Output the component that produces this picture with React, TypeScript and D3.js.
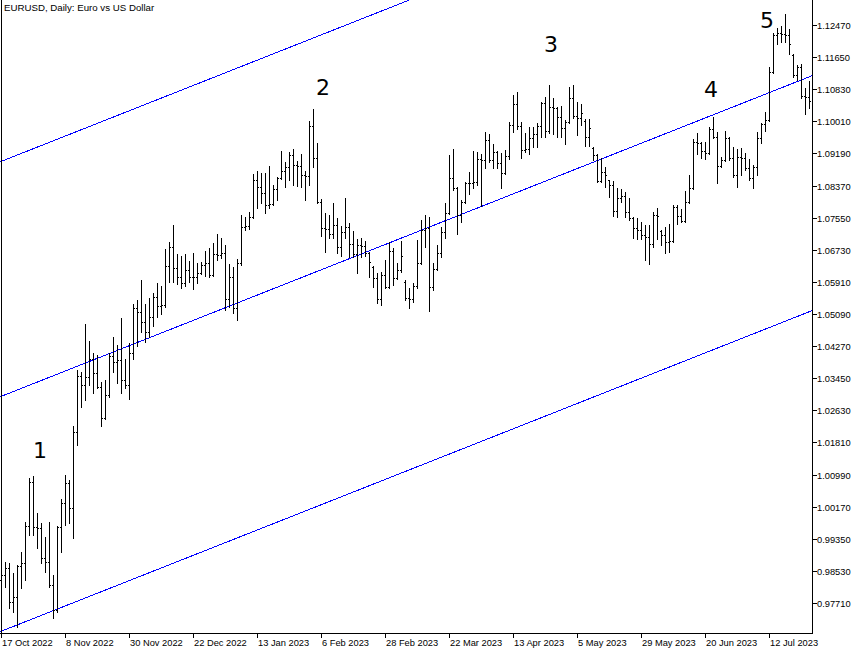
import React from "react";
import * as d3 from "d3";

const TITLE = "EURUSD, Daily:  Euro vs US Dollar";

const dateTickIndex = [0, 16, 32, 48, 64, 80, 96, 112, 128, 144, 160, 176, 192];
const dateLabels = [
  "17 Oct 2022", "8 Nov 2022", "30 Nov 2022", "22 Dec 2022", "13 Jan 2023",
  "6 Feb 2023", "28 Feb 2023", "22 Mar 2023", "13 Apr 2023", "5 May 2023",
  "29 May 2023", "20 Jun 2023", "12 Jul 2023",
];

const priceTicks = [
  1.1247, 1.1165, 1.1083, 1.1001, 1.0919, 1.0837, 1.0755, 1.0673, 1.0591, 1.0509,
  1.0427, 1.0345, 1.0263, 1.0181, 1.0099, 1.0017, 0.9935, 0.9853, 0.9771,
];

const opens = [
  0.9830, 0.9842, 0.9860, 0.9773, 0.9786, 0.9865, 0.9873, 0.9967, 1.0080, 0.9965,
  0.9963, 0.9886, 0.9876, 0.9817, 0.9753, 0.9965, 1.0026, 1.0077, 1.0014, 1.0208,
  1.0351, 1.0328, 1.0348, 1.0394, 1.0358, 1.0322, 1.0243, 1.0302, 1.0402, 1.0386,
  1.0392, 1.0340, 1.0328, 1.0409, 1.0524, 1.0514, 1.0489, 1.0463, 1.0501, 1.0552,
  1.0529, 1.0532, 1.0632, 1.0680, 1.0627, 1.0603, 1.0588, 1.0621, 1.0603, 1.0604,
  1.0614, 1.0634, 1.0639, 1.0609, 1.0662, 1.0660, 1.0665, 1.0547, 1.0603, 1.0524,
  1.0639, 1.0731, 1.0734, 1.0757, 1.0851, 1.0833, 1.0818, 1.0787, 1.0790, 1.0828,
  1.0857, 1.0874, 1.0884, 1.0915, 1.0890, 1.0887, 1.0864, 1.0861, 1.0989, 1.0907,
  1.0795, 1.0729, 1.0726, 1.0713, 1.0736, 1.0680, 1.0718, 1.0731, 1.0688, 1.0662,
  1.0685, 1.0683, 1.0665, 1.0630, 1.0601, 1.0547, 1.0609, 1.0577, 1.0670, 1.0601,
  1.0621, 1.0590, 1.0550, 1.0547, 1.0580, 1.0639, 1.0724, 1.0729, 1.0578, 1.0625,
  1.0665, 1.0718, 1.0767, 1.0856, 1.0831, 1.0762, 1.0795, 1.0844, 1.0843, 1.0845,
  1.0905, 1.0902, 1.0953, 1.0902, 1.0923, 1.0895, 1.0868, 1.0912, 1.0992, 1.1045,
  1.0989, 1.0928, 1.0930, 1.0958, 1.0969, 1.0989, 1.1047, 1.0976, 1.1037, 1.1035,
  1.1012, 1.0984, 1.0999, 1.1060, 1.1014, 1.1009, 1.1002, 1.0961, 1.0933, 1.0915,
  1.0849, 1.0872, 1.0850, 1.0838, 1.0772, 1.0805, 1.0810, 1.0770, 1.0754, 1.0729,
  1.0724, 1.0711, 1.0705, 1.0688, 1.0762, 1.0722, 1.0711, 1.0693, 1.0695, 1.0782,
  1.0759, 1.0747, 1.0795, 1.0831, 1.0948, 1.0946, 1.0925, 1.0920, 1.0981, 1.0960,
  1.0887, 1.0902, 1.0958, 1.0907, 1.0864, 1.0910, 1.0907, 1.0882, 1.0856, 1.0884,
  1.0958, 1.0994, 1.1004, 1.1127, 1.1222, 1.1227, 1.1225, 1.1222, 1.1171, 1.1119,
  1.1140, 1.1066, 1.1063,
];

const highs = [
  0.9868, 0.9876, 0.9873, 0.9847, 0.9868, 0.9901, 0.9978, 1.0090, 1.0095, 1.0001,
  0.9975, 0.9939, 0.9978, 0.9842, 0.9967, 1.0036, 1.0098, 1.0085, 1.0223, 1.0366,
  1.0361, 1.0483, 1.0440, 1.0409, 1.0404, 1.0335, 1.0340, 1.0409, 1.0450, 1.0430,
  1.0499, 1.0394, 1.0435, 1.0535, 1.0545, 1.0596, 1.0535, 1.0550, 1.0563, 1.0588,
  1.0580, 1.0675, 1.0693, 1.0736, 1.0662, 1.0657, 1.0662, 1.0644, 1.0665, 1.0639,
  1.0642, 1.0670, 1.0678, 1.0690, 1.0713, 1.0703, 1.0685, 1.0637, 1.0629, 1.0649,
  1.0762, 1.0757, 1.0770, 1.0866, 1.0874, 1.0869, 1.0869, 1.0887, 1.0838, 1.0859,
  1.0925, 1.0897, 1.0923, 1.0930, 1.0900, 1.0918, 1.0874, 1.1002, 1.1033, 1.0946,
  1.0803, 1.0767, 1.0762, 1.0792, 1.0754, 1.0734, 1.0805, 1.0741, 1.0721, 1.0701,
  1.0703, 1.0695, 1.0668, 1.0632, 1.0614, 1.0616, 1.0647, 1.0693, 1.0678, 1.0639,
  1.0695, 1.0595, 1.0575, 1.0588, 1.0698, 1.0749, 1.0762, 1.0757, 1.0639, 1.0685,
  1.0731, 1.0792, 1.0915, 1.0930, 1.0834, 1.0800, 1.0846, 1.0872, 1.0925, 1.0923,
  1.0918, 1.0974, 1.0969, 1.0943, 1.0926, 1.0920, 1.0928, 1.0999, 1.1068, 1.1076,
  1.0999, 1.0971, 1.0986, 1.0986, 1.0997, 1.1050, 1.1063, 1.1094, 1.1060, 1.1038,
  1.1040, 1.1004, 1.1089, 1.1094, 1.1050, 1.1045, 1.1006, 1.1007, 1.0935, 1.0917,
  1.0907, 1.0885, 1.0851, 1.0849, 1.0831, 1.0828, 1.0820, 1.0805, 1.0757, 1.0754,
  1.0744, 1.0736, 1.0736, 1.0770, 1.0780, 1.0724, 1.0731, 1.0739, 1.0787, 1.0787,
  1.0777, 1.0823, 1.0864, 1.0956, 1.0971, 1.0948, 1.0948, 1.0986, 1.1012, 1.0974,
  1.0910, 1.0976, 1.0960, 1.0935, 1.0930, 1.0933, 1.0920, 1.0905, 1.0890, 1.0974,
  1.0997, 1.1025, 1.1139, 1.1227, 1.1239, 1.1244, 1.1275, 1.1237, 1.1173, 1.1145,
  1.1147, 1.1086, 1.1104,
];

const lows = [
  0.9809, 0.9812, 0.9758, 0.9748, 0.9710, 0.9809, 0.9830, 0.9945, 0.9945, 0.9911,
  0.9873, 0.9850, 0.9812, 0.9733, 0.9748, 0.9901, 0.9970, 0.9975, 0.9937, 1.0174,
  1.0271, 1.0289, 1.0328, 1.0307, 1.0320, 1.0223, 1.0241, 1.0297, 1.0361, 1.0333,
  1.0307, 1.0320, 1.0292, 1.0394, 1.0427, 1.0463, 1.0437, 1.0450, 1.0478, 1.0501,
  1.0509, 1.0528, 1.0591, 1.0591, 1.0586, 1.0575, 1.0580, 1.0591, 1.0573, 1.0588,
  1.0611, 1.0606, 1.0603, 1.0605, 1.0647, 1.0652, 1.0519, 1.0527, 1.0512, 1.0494,
  1.0635, 1.0724, 1.0726, 1.0755, 1.0780, 1.0792, 1.0767, 1.0780, 1.0787, 1.0800,
  1.0854, 1.0833, 1.0851, 1.0838, 1.0836, 1.0833, 1.0800, 1.0838, 1.0884, 1.0792,
  1.0708, 1.0667, 1.0703, 1.0703, 1.0665, 1.0657, 1.0703, 1.0655, 1.0655, 1.0614,
  1.0655, 1.0657, 1.0603, 1.0578, 1.0537, 1.0532, 1.0575, 1.0575, 1.0583, 1.0598,
  1.0615, 1.0545, 1.0524, 1.0540, 1.0575, 1.0637, 1.0680, 1.0517, 1.0570, 1.0622,
  1.0655, 1.0703, 1.0765, 1.0826, 1.0713, 1.0744, 1.0793, 1.0815, 1.0831, 1.0838,
  1.0785, 1.0882, 1.0897, 1.0882, 1.0882, 1.0831, 1.0867, 1.0905, 1.0974, 1.0981,
  1.0907, 1.0923, 1.0918, 1.0935, 1.0935, 1.0961, 1.0961, 1.0972, 1.0969, 1.0961,
  1.0961, 1.0943, 1.0996, 1.1009, 1.0966, 1.0992, 1.0938, 1.0938, 1.0902, 1.0846,
  1.0846, 1.0833, 1.0808, 1.0759, 1.0757, 1.0795, 1.0757, 1.0749, 1.0703, 1.0700,
  1.0700, 1.0647, 1.0637, 1.0680, 1.0700, 1.0685, 1.0665, 1.0667, 1.0692, 1.0739,
  1.0744, 1.0745, 1.0792, 1.0828, 1.0918, 1.0907, 1.0905, 1.0918, 1.0958, 1.0843,
  1.0884, 1.0900, 1.0902, 1.0859, 1.0833, 1.0864, 1.0877, 1.0851, 1.0831, 1.0864,
  1.0946, 1.0976, 1.1001, 1.1124, 1.1198, 1.1204, 1.1204, 1.1173, 1.1114, 1.1107,
  1.1061, 1.1020, 1.1035,
];

const closes = [
  0.9842, 0.9860, 0.9773, 0.9786, 0.9865, 0.9873, 0.9967, 1.0080, 0.9965, 0.9963,
  0.9886, 0.9876, 0.9817, 0.9753, 0.9965, 1.0026, 1.0077, 1.0014, 1.0208, 1.0351,
  1.0328, 1.0348, 1.0394, 1.0358, 1.0322, 1.0243, 1.0302, 1.0402, 1.0386, 1.0392,
  1.0340, 1.0328, 1.0409, 1.0524, 1.0514, 1.0489, 1.0463, 1.0501, 1.0552, 1.0529,
  1.0532, 1.0632, 1.0680, 1.0627, 1.0603, 1.0588, 1.0621, 1.0603, 1.0604, 1.0614,
  1.0634, 1.0639, 1.0609, 1.0662, 1.0660, 1.0665, 1.0547, 1.0603, 1.0524, 1.0639,
  1.0731, 1.0734, 1.0757, 1.0851, 1.0833, 1.0818, 1.0787, 1.0790, 1.0828, 1.0857,
  1.0874, 1.0884, 1.0915, 1.0890, 1.0887, 1.0864, 1.0861, 1.0989, 1.0907, 1.0795,
  1.0729, 1.0726, 1.0713, 1.0736, 1.0680, 1.0718, 1.0731, 1.0688, 1.0662, 1.0685,
  1.0683, 1.0665, 1.0642, 1.0601, 1.0547, 1.0609, 1.0577, 1.0670, 1.0601, 1.0621,
  1.0657, 1.0550, 1.0547, 1.0580, 1.0639, 1.0724, 1.0729, 1.0578, 1.0625, 1.0665,
  1.0718, 1.0767, 1.0856, 1.0831, 1.0762, 1.0795, 1.0844, 1.0843, 1.0845, 1.0905,
  1.0902, 1.0953, 1.0902, 1.0923, 1.0895, 1.0868, 1.0912, 1.0992, 1.1045, 1.0989,
  1.0928, 1.0930, 1.0958, 1.0969, 1.0989, 1.1047, 1.0976, 1.1037, 1.1035, 1.1012,
  1.0984, 1.0999, 1.1060, 1.1014, 1.1009, 1.1022, 1.0961, 1.0984, 1.0915, 1.0849,
  1.0872, 1.0864, 1.0838, 1.0772, 1.0805, 1.0810, 1.0770, 1.0754, 1.0729, 1.0724,
  1.0711, 1.0705, 1.0688, 1.0762, 1.0760, 1.0711, 1.0693, 1.0695, 1.0782, 1.0759,
  1.0747, 1.0795, 1.0831, 1.0948, 1.0946, 1.0925, 1.0920, 1.0981, 1.0960, 1.0887,
  1.0902, 1.0958, 1.0907, 1.0864, 1.0910, 1.0907, 1.0882, 1.0856, 1.0884, 1.0958,
  1.0994, 1.1004, 1.1127, 1.1222, 1.1227, 1.1225, 1.1222, 1.1199, 1.1119, 1.1140,
  1.1066, 1.1063, 1.1053,
];

// Equidistant channel: anchor bar indices and middle-line prices, plus half width
const channelIdx = [0, 202];
const channelMid = [1.0299, 1.1115];
const channelOffsets = [0.06, 0, -0.06];

// Wave annotations
const waveLabels = ["1", "2", "3", "4", "5"];
const waveIdx = [9.6, 80.4, 137.4, 177.4, 191.4];
const wavePrice = [1.0141, 1.1068, 1.1178, 1.1063, 1.1239];

export default function App() {
  React.useEffect(() => {
    document.body.style.margin = "0";
  }, []);

  const W = 855;
  const H = 650;
  const plotRight = 812;
  const plotBottom = 634;
  const axisFont = "'Liberation Sans', Arial, sans-serif";

  const x = d3.scaleLinear().domain([0, 202]).range([1.5, 809.5]);
  const y = d3.scaleLinear().domain([0.96917, 1.13109]).range([plotBottom, 0]);
  const fmt = d3.format(".5f");

  const col = (i: number) => Math.floor(x(i));
  const ry = (p: number) => Math.round(y(p));

  const iL = x.invert(0);
  const iR = x.invert(plotRight);
  const extrap = (idx: number) =>
    channelMid[0] + ((channelMid[1] - channelMid[0]) * (idx - channelIdx[0])) / (channelIdx[1] - channelIdx[0]);

  return (
    <svg
      width={W}
      height={H}
      style={{ position: "absolute", left: 0, top: 0, background: "#fff", display: "block" }}
    >
      <defs>
        <clipPath id="plotClip">
          <rect x={0} y={0} width={plotRight} height={plotBottom} />
        </clipPath>
      </defs>
      <rect x={0} y={0} width={W} height={H} fill="#fff" />

      {/* channel lines */}
      <g clipPath="url(#plotClip)">
        {channelOffsets.map((off, k) => (
          <line
            key={k}
            x1={0}
            y1={y(extrap(iL) + off)}
            x2={plotRight}
            y2={y(extrap(iR) + off)}
            stroke="#0000ff"
            strokeWidth={1}
            shapeRendering="crispEdges"
          />
        ))}
      </g>

      {/* OHLC bars */}
      <g fill="#000" shapeRendering="crispEdges" clipPath="url(#plotClip)">
        {highs.map((h, i) => {
          const cx = col(i);
          const yh = ry(h);
          const yl = ry(lows[i]);
          return (
            <g key={i}>
              <rect x={cx} y={yh} width={1} height={yl - yh + 1} />
              <rect x={cx - 1} y={ry(opens[i])} width={1} height={1} />
              <rect x={cx + 1} y={ry(closes[i])} width={1} height={1} />
            </g>
          );
        })}
      </g>

      {/* wave labels */}
      {waveLabels.map((t, k) => (
        <text
          key={t}
          x={x(waveIdx[k])}
          y={y(wavePrice[k])}
          textAnchor="middle"
          fontFamily="'DejaVu Sans', sans-serif"
          fontSize={22}
          fill="#000"
        >
          {t}
        </text>
      ))}

      {/* frame / axes */}
      <g stroke="#000" strokeWidth={1} shapeRendering="crispEdges">
        <line x1={1.5} y1={0} x2={1.5} y2={plotBottom} />
        <line x1={0} y1={plotBottom - 0.5} x2={plotRight + 1} y2={plotBottom - 0.5} />
        <line x1={plotRight + 0.5} y1={0} x2={plotRight + 0.5} y2={plotBottom} />
        {priceTicks.map((p) => (
          <line key={p} x1={plotRight + 1} y1={ry(p) + 0.5} x2={plotRight + 5} y2={ry(p) + 0.5} />
        ))}
        {dateTickIndex.map((i) => (
          <line key={i} x1={col(i) + 0.5} y1={plotBottom} x2={col(i) + 0.5} y2={plotBottom + 4} />
        ))}
      </g>

      {/* price labels */}
      <g fontFamily={axisFont} fontSize={9.3} fill="#000">
        {priceTicks.map((p) => (
          <text key={p} x={plotRight + 5} y={ry(p) + 0.5} dominantBaseline="central">
            {fmt(p)}
          </text>
        ))}
        {dateTickIndex.map((i, k) => (
          <text key={i} x={col(i) + 1} y={646}>
            {dateLabels[k]}
          </text>
        ))}
      </g>

      <text x={4} y={11} fontFamily={axisFont} fontSize={9.7} fill="#000">
        {TITLE}
      </text>
    </svg>
  );
}
